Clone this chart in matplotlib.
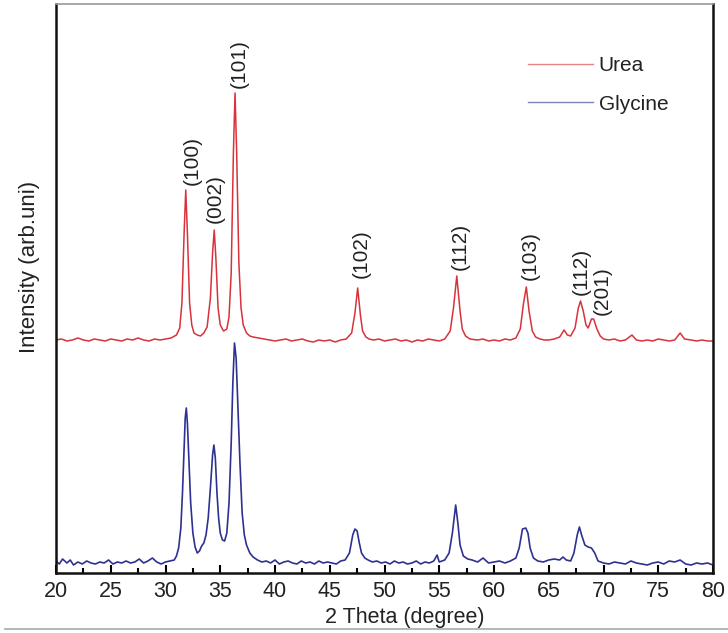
import matplotlib
matplotlib.use("Agg")
import matplotlib.pyplot as plt
from matplotlib.lines import Line2D
from matplotlib.ticker import MultipleLocator

plt.rcParams['font.family'] = ['Liberation Sans', 'DejaVu Sans']

# ---- data (2 theta in degrees, intensity in arb. units) ----
urea_x = [20.0, 20.5, 21.0, 21.5, 22.0, 22.5, 23.0, 23.5, 24.0, 24.5, 25.0, 25.5, 26.0, 26.5,
          27.0, 27.5, 28.0, 28.5, 29.0, 29.5, 30.0, 30.5, 31.0, 31.3, 31.5, 31.7, 31.85, 32.0,
          32.2, 32.4, 32.6, 32.9, 33.2, 33.5, 33.8, 34.1, 34.3, 34.45, 34.6, 34.8, 35.0, 35.3,
          35.6, 35.8, 36.0, 36.2, 36.35, 36.5, 36.7, 36.9, 37.1, 37.4, 37.7, 38.0, 38.5, 39.0,
          39.5, 40.0, 40.5, 41.0, 41.5, 42.0, 42.5, 43.0, 43.5, 44.0, 44.5, 45.0, 45.5, 46.0,
          46.5, 47.0, 47.3, 47.55, 47.8, 48.0, 48.3, 48.6, 49.0, 49.5, 50.0, 50.5, 51.0, 51.5,
          52.0, 52.5, 53.0, 53.5, 54.0, 54.5, 55.0, 55.5, 56.0, 56.3, 56.6, 56.9, 57.1, 57.4,
          57.8, 58.5, 59.0, 59.5, 60.0, 60.5, 61.0, 61.5, 62.0, 62.4, 62.7, 62.95, 63.2, 63.5,
          63.8, 64.2, 64.6, 65.0, 65.5, 66.0, 66.4, 66.7, 67.0, 67.4, 67.7, 67.9, 68.15, 68.4,
          68.6, 68.9, 69.1, 69.4, 69.7, 70.0, 70.5, 71.0, 71.5, 72.0, 72.6, 73.0, 73.5, 74.0,
          74.5, 75.0, 75.5, 76.0, 76.5, 77.0, 77.4, 78.0, 78.5, 79.0, 79.5, 80.0]
urea_y = [233, 234, 232, 233, 235, 233, 232, 234, 233, 232, 234, 233, 232, 234,
          233, 235, 233, 232, 234, 233, 234, 235, 238, 245, 270, 340, 383, 340,
          270, 248, 240, 238, 237, 240, 246, 275, 320, 343, 315, 265, 248, 242,
          244, 256, 300, 420, 480, 420, 310, 265, 248, 240, 237, 236, 235, 234,
          233, 232, 233, 234, 232, 233, 234, 232, 231, 233, 232, 233, 231, 233,
          234, 240, 260, 285, 258, 242, 236, 234, 233, 234, 232, 233, 234, 232,
          233, 231, 233, 232, 234, 233, 232, 234, 242, 265, 297, 262, 244, 237,
          234, 233, 234, 232, 233, 232, 234, 233, 235, 244, 270, 286, 262, 242,
          236, 234, 233, 233, 234, 236, 243, 238, 237, 245, 265, 272, 262, 248,
          245, 254, 254, 244, 237, 234, 233, 234, 232, 233, 238, 233, 232, 233,
          232, 234, 233, 232, 233, 240, 234, 233, 232, 233, 232, 232]

gly_x = [20.0, 20.3, 20.6, 21.0, 21.3, 21.6, 22.0, 22.4, 22.8, 23.2, 23.6, 24.0, 24.4, 24.8,
         25.2, 25.6, 26.0, 26.4, 26.8, 27.2, 27.6, 28.0, 28.4, 28.8, 29.2, 29.6, 30.0, 30.4,
         30.8, 31.0, 31.2, 31.4, 31.55, 31.7, 31.8, 31.9, 32.0, 32.15, 32.3, 32.5, 32.7, 32.9,
         33.1, 33.3, 33.5, 33.7, 33.9, 34.1, 34.3, 34.42, 34.55, 34.7, 34.85, 35.0, 35.2, 35.4,
         35.6, 35.8, 36.0, 36.15, 36.3, 36.45, 36.6, 36.8, 37.0, 37.2, 37.4, 37.7, 38.0, 38.4,
         38.8, 39.2, 39.6, 40.0, 40.4, 40.8, 41.2, 41.6,
         42.0, 42.4, 42.8, 43.2, 43.6, 44.0, 44.4, 44.8, 45.2, 45.6, 46.0, 46.4, 46.8, 47.1,
         47.3, 47.5, 47.7, 47.9, 48.2, 48.5, 48.9, 49.3, 49.7, 50.1, 50.5, 50.9, 51.3, 51.7,
         52.1, 52.5, 52.9, 53.3, 53.7, 54.1, 54.5, 54.8, 55.0, 55.5, 55.9, 56.2, 56.5, 56.7,
         56.9, 57.2, 57.6, 58.0, 58.5, 59.0, 59.5, 60.0, 60.5, 61.0, 61.5, 62.0, 62.3, 62.6,
         62.9, 63.1, 63.3, 63.6, 64.0, 64.5, 65.0, 65.5, 66.0, 66.3, 66.6, 67.0, 67.3, 67.6,
         67.8, 68.0, 68.3, 68.6, 68.9, 69.2, 69.5, 70.0, 70.5, 71.0, 71.5, 72.0, 72.5, 73.0,
         73.5, 74.0, 74.5, 75.0, 75.5, 76.0, 76.5, 77.0, 77.5, 78.0, 78.5, 79.0, 79.5, 80.0]
gly_y = [12, 9, 14, 10, 13, 8, 11, 9, 12, 10, 9, 11, 10, 13,
         9, 11, 10, 12, 10, 11, 14, 10, 12, 15, 11, 9, 11, 12,
         13, 17, 25, 45, 80, 125, 155, 165, 150, 110, 70, 40, 26, 20,
         22, 27, 30, 38, 55, 85, 118, 128, 115, 80, 55, 40, 33, 32,
         40, 70, 130, 190, 230, 215, 170, 110, 60, 38, 28, 20, 16, 13,
         11, 12, 10, 13, 9, 11, 12, 10,
         9, 12, 10, 11, 9, 12, 10, 11, 10, 9, 12, 13, 20, 38,
         44, 42, 30, 20, 15, 13, 11, 12, 10, 11, 9, 12, 10, 11,
         9, 10, 12, 9, 11, 10, 12, 18, 11, 13, 20, 40, 68, 50,
         28, 17, 14, 13, 11, 15, 10, 11, 12, 10, 12, 15, 25, 44,
         45, 40, 25, 15, 12, 11, 13, 14, 13, 16, 13, 12, 20, 38,
         46, 38, 28, 26, 25, 20, 12, 10, 9, 11, 10, 9, 12, 10,
         9, 8, 10, 11, 9, 12, 11, 13, 9, 8, 10, 9, 10, 8]

peak_labels = ['(100)', '(002)', '(101)', '(102)', '(112)', '(103)', '(112)', '(201)']
label_x = [32.45, 34.57, 36.7, 47.9, 56.95, 63.3, 67.95, 69.9]
label_y = [388, 350, 485, 295, 303, 293, 278, 258]

series_names = ['Urea', 'Glycine']
colors = ['#d8323c', '#2e3190']

# ---- figure ----
W, H = 728, 633
fig = plt.figure(figsize=(W / 100, H / 100), dpi=100)
ax = fig.add_axes([56 / W, 1 - 573 / H, (713 - 56) / W, (573 - 4) / H])

ax.plot(urea_x, urea_y, color=colors[0], lw=1.1)
ax.plot(gly_x, gly_y, color=colors[1], lw=1.2)

for t, x, y in zip(peak_labels, label_x, label_y):
    ax.text(x, y, t, rotation=90, ha='center', va='bottom', fontsize=15, color='#222222')

ax.set_xlim(20, 80)
ax.set_ylim(0, 569)
ax.xaxis.set_major_locator(MultipleLocator(5))
ax.xaxis.set_minor_locator(MultipleLocator(2.5))
ax.tick_params(axis='x', which='major', direction='in', length=6, width=1.5,
               labelsize=15.5, labelcolor='#222222', pad=6)
ax.tick_params(axis='x', which='minor', direction='in', length=3.5, width=1.5)
ax.set_yticks([])

ax.set_xlabel('2 Theta (degree)', fontsize=15.5, color='#222222')
ax.xaxis.set_label_coords((405 - 56) / 657, -(617 - 573) / 569)
ax.set_ylabel('Intensity (arb.uni)', fontsize=16, color='#222222')
ax.yaxis.set_label_coords(-(56 - 30) / 657, (573 - 267) / 569)
ax.xaxis.label.set_va('center')
ax.yaxis.label.set_va('center')

for s in ['left', 'bottom', 'right']:
    ax.spines[s].set_linewidth(1.8)
    ax.spines[s].set_color('#111111')
ax.spines['top'].set_linewidth(1.2)
ax.spines['top'].set_color('#999999')

handles = [Line2D([], [], color=c, lw=1.0, alpha=0.6) for c in colors]
ax.legend(handles, series_names, loc='upper left',
          bbox_to_anchor=((528 - 56) / 657, (573 - 56) / 569),
          frameon=False, fontsize=15, handlelength=3.1, handletextpad=0.3,
          labelspacing=0.95, borderpad=0, borderaxespad=0, labelcolor='#222222')

fig.add_artist(Line2D([5 / W, 1], [1 - 629 / H, 1 - 629 / H], color='#aaaaaa', lw=1.2))

fig.savefig('out.png', dpi=100)
